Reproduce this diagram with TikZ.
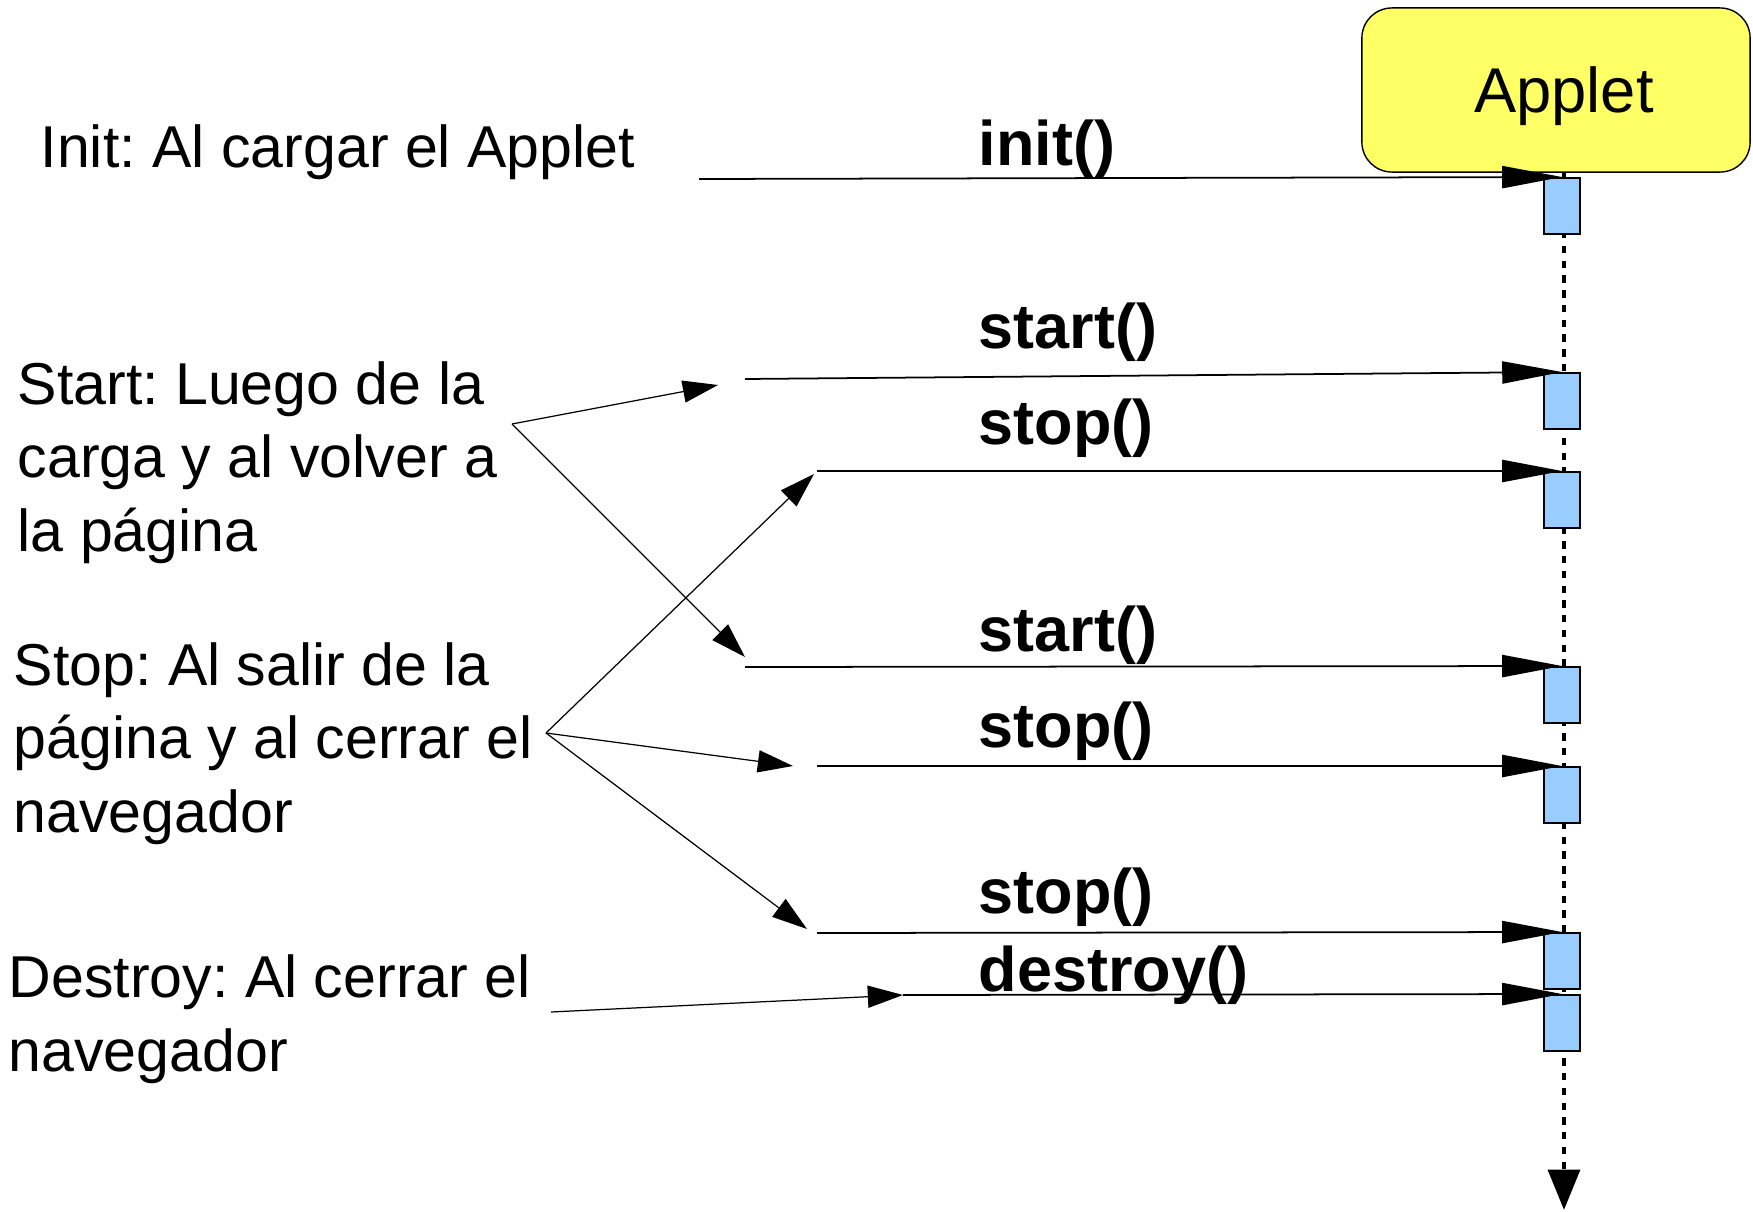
\documentclass[tikz,border=0pt]{standalone}
\usepackage{fontspec}
\setmainfont{Liberation Sans}
\usetikzlibrary{arrows.meta}
\definecolor{appletyellow}{HTML}{FFFF66}
\definecolor{actblue}{HTML}{99CCFF}
\frenchspacing

\begin{document}
\begin{tikzpicture}[x=0.01cm, y=-0.01cm,
    Applet/.style={draw=black, fill=appletyellow, rounded corners=0.3cm, minimum width=3.88cm, minimum height=1.64cm, inner sep=0pt, text height=13pt, text depth=0pt, font=\fontsize{18pt}{21pt}\selectfont},
    Act/.style={draw=black, fill=actblue, minimum width=0.36cm, minimum height=0.56cm, inner sep=0pt, anchor=north, line width=0.5pt},
    Note/.style={anchor=base west, inner sep=0pt, align=left, font=\fontsize{16.8pt}{20.8pt}\selectfont},
    Call/.style={anchor=base west, inner sep=0pt, font=\fontsize{17.9pt}{21pt}\selectfont\bfseries},
    Msg/.style={draw, line width=0.5pt, -{Triangle[length=17pt, width=6.3pt]}},
    Hint/.style={draw, line width=0.35pt, -{Triangle[length=10pt, width=6.3pt]}},
    Life/.style={draw, line width=1.3pt, dash pattern=on 2.1pt off 2.1pt, -{Triangle[length=11.5pt, width=9pt]}}]
        \useasboundingbox (0,0) rectangle (1753,1212);

        \coordinate (lifeTop) at (1564,172);
        \coordinate (lifeEnd) at (1564,1210);
        \draw[Life] (lifeTop) -- (lifeEnd);

        \node[Applet] (applet) at (1556,90) {\hspace*{0.16cm}Applet};

        \node[Act] (act1) at (1562,177) {};
        \node[Act] (act2) at (1562,372) {};
        \node[Act] (act3) at (1562,471) {};
        \node[Act] (act4) at (1562,666) {};
        \node[Act] (act5) at (1562,766) {};
        \node[Act] (act6) at (1562,932) {};
        \node[Act] (act7) at (1562,994) {};

        \node[Call] (initCall) at (978,165) {init()};
        \node[Call] (start1Call) at (978,348) {start()};
        \node[Call] (stop1Call) at (978,444) {stop()};
        \node[Call] (start2Call) at (978,651) {start()};
        \node[Call] (stop2Call) at (978,747) {stop()};
        \node[Call] (stop3Call) at (978,913) {stop()};
        \node[Call] (destroyCall) at (978,991) {destroy()};

        \coordinate (initFrom) at (699,179);
        \coordinate (start1From) at (745,379);
        \coordinate (stop1From) at (817,471);
        \coordinate (start2From) at (745,667);
        \coordinate (stop2From) at (817,766);
        \coordinate (stop3From) at (817,933);
        \coordinate (destroyFrom) at (903,995);

        \draw[Msg] (initFrom) -- (act1.north);
        \draw[Msg] (start1From) -- (act2.north);
        \draw[Msg] (stop1From) -- (act3.north);
        \draw[Msg] (start2From) -- (act4.north);
        \draw[Msg] (stop2From) -- (act5.north);
        \draw[Msg] (stop3From) -- (act6.north);
        \draw[Msg] (destroyFrom) -- (act7.north);

        % multi-line notes sit on the baseline of their last line
        \node[Note] (initNote) at (40,167) {Init: Al cargar el Applet};
        \node[Note] (startNote) at (17,551) {Start: Luego de la\\carga y al volver a\\la página};
        \node[Note] (stopNote) at (13,832) {Stop: Al salir de la\\página y al cerrar el\\navegador};
        \node[Note] (destroyNote) at (8,1071) {Destroy: Al cerrar el\\navegador};

        \coordinate (startFork) at (512,424);
        \coordinate (stopFork) at (546,733);
        \coordinate (destroyFork) at (551,1012);
        \coordinate (startHintA) at (718,385);
        \coordinate (startHintB) at (745,657);
        \coordinate (stopHintA) at (814,474);
        \coordinate (stopHintB) at (793,766);
        \coordinate (stopHintC) at (807,929);

        \draw[Hint] (startFork) -- (startHintA);
        \draw[Hint] (startFork) -- (startHintB);
        \draw[Hint] (stopFork) -- (stopHintA);
        \draw[Hint] (stopFork) -- (stopHintB);
        \draw[Hint] (stopFork) -- (stopHintC);
        \draw[Hint] (destroyFork) -- (destroyFrom);
    \end{tikzpicture}
\end{document}
